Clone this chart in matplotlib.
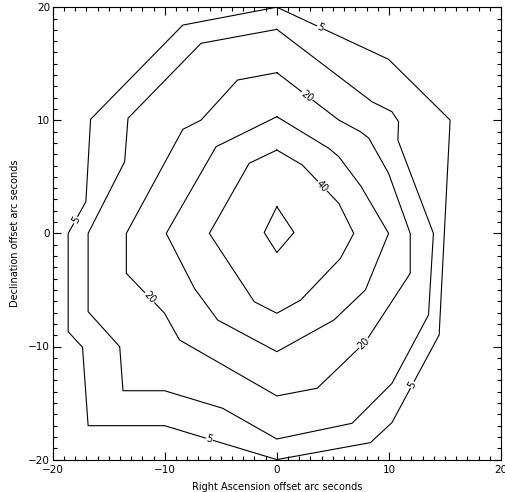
import math
import matplotlib
matplotlib.use("Agg")
import matplotlib.pyplot as plt
from matplotlib.ticker import MultipleLocator

# contour levels (every other one is labelled, IDL style)
levels = [5, 10, 20, 30, 40, 50]

# contour paths, arc seconds
ring5_x = [0.0, 9.97, 15.46, 14.48, 10.27, 8.35, 0.0, -10.02, -16.84, -17.34, -18.62, -18.62, -17.04, -16.62, -8.39]
ring5_y = [20.0, 15.39, 10.02, -8.98, -16.73, -18.50, -20.0, -17.00, -17.00, -10.07, -8.69, 0.0, 2.80, 10.09, 18.42]

ring10_x = [0.0, 8.49, 10.27, 10.86, 10.80, 13.97, 13.53, 10.27, 6.71, 0.0, -4.84, -10.02, -13.73, -14.02, -16.84, -16.84, -13.58, -13.28, -6.76]
ring10_y = [18.04, 11.64, 10.76, 9.87, 8.25, 0.0, -7.21, -13.26, -16.79, -18.18, -15.46, -13.91, -13.91, -10.02, -6.92, 0.0, 6.34, 10.18, 16.81]

ring20_x = [0.0, 5.53, 7.46, 8.20, 9.97, 11.90, 11.90, 7.90, 3.60, 0.0, -8.69, -10.02, -13.43, -13.43, -8.39, -6.76, -3.51]
ring20_y = [14.21, 10.02, 8.99, 8.43, 5.31, 0.0, -3.53, -9.60, -13.69, -14.37, -9.42, -7.06, -3.53, 0.0, 9.20, 10.02, 13.56]

ring30_x = [0.0, 4.64, 5.53, 7.49, 9.97, 7.90, 5.09, 0.0, -5.28, -7.36, -9.87, -5.43]
ring30_y = [10.32, 7.52, 6.78, 4.19, 0.0, -5.00, -7.66, -10.46, -7.66, -4.85, 0.0, 7.66]

ring40_x = [0.0, 2.27, 5.53, 6.86, 5.68, 2.13, 0.0, -2.02, -6.02, -2.47]
ring40_y = [7.37, 6.05, 2.66, 0.0, -2.20, -5.89, -7.06, -6.04, 0.0, 6.20]

ring50_x = [0.0, 1.53, 0.0, -1.13]
ring50_y = [2.36, 0.08, -1.69, 0.08]

rings = {
    5: (ring5_x, ring5_y),
    10: (ring10_x, ring10_y),
    20: (ring20_x, ring20_y),
    30: (ring30_x, ring30_y),
    40: (ring40_x, ring40_y),
    50: (ring50_x, ring50_y),
}

# where the level labels sit: level, segment index, fraction along segment
label_levels = [5, 5, 5, 5, 20, 20, 20, 40]
label_segs = [0, 3, 6, 11, 0, 11, 7, 1]
label_fracs = [0.39, 0.57, 0.60, 0.42, 0.49, 0.39, 0.03, 0.55]

fig = plt.figure(figsize=(5.06, 4.92), dpi=100)
ax = fig.add_axes([52.7 / 506, 32.4 / 492, 448.3 / 506, 452.4 / 492])

for lev in levels:
    x, y = rings[lev]
    ax.plot(x + [x[0]], y + [y[0]], color="black", lw=0.8, zorder=2)

ax.set_xlim(-20, 20)
ax.set_ylim(-20, 20)

# label the contours along the line
for lev, seg, f in zip(label_levels, label_segs, label_fracs):
    x, y = rings[lev]
    n = len(x)
    x0, y0 = x[seg], y[seg]
    x1, y1 = x[(seg + 1) % n], y[(seg + 1) % n]
    px = x0 + f * (x1 - x0)
    py = y0 + f * (y1 - y0)
    d0 = ax.transData.transform((x0, y0))
    d1 = ax.transData.transform((x1, y1))
    ang = math.degrees(math.atan2(d1[1] - d0[1], d1[0] - d0[0]))
    if ang > 90:
        ang -= 180
    if ang < -90:
        ang += 180
    ax.text(px, py, str(lev), fontsize=7, rotation=ang, rotation_mode="anchor",
            ha="center", va="center", zorder=3,
            bbox=dict(fc="white", ec="none", pad=0.4))

ax.xaxis.set_major_locator(MultipleLocator(10))
ax.xaxis.set_minor_locator(MultipleLocator(1))
ax.yaxis.set_major_locator(MultipleLocator(10))
ax.yaxis.set_minor_locator(MultipleLocator(1))
ax.tick_params(which="both", direction="in", top=True, right=True, width=0.8, labelsize=7.5)
ax.tick_params(which="major", length=6)
ax.tick_params(which="minor", length=3.2)
ax.tick_params(axis="x", pad=4)
ax.tick_params(axis="y", pad=2)
for sp in ax.spines.values():
    sp.set_linewidth(0.8)

ax.set_xlabel("Right Ascension offset arc seconds", fontsize=7, va="center")
ax.xaxis.set_label_coords(0.5, -0.06)
ax.set_ylabel("Declination offset arc seconds", fontsize=7, va="center")
ax.yaxis.set_label_coords(-0.084, 0.5)

fig.savefig("out.png", dpi=100)
